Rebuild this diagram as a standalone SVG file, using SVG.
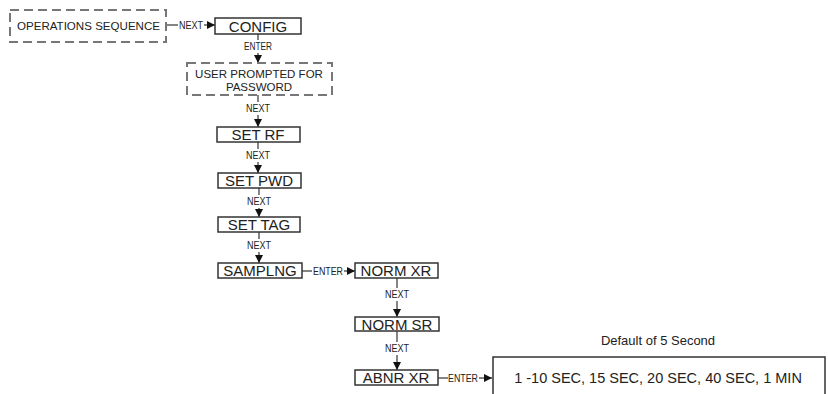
<svg xmlns="http://www.w3.org/2000/svg" width="828" height="394" viewBox="0 0 828 394">
<style>
.box{fill:#fff;stroke:#333;stroke-width:1.5}
.dbox{fill:#fff;stroke:#777;stroke-width:2;stroke-dasharray:9 5}
.lbl{font-family:"Liberation Sans",Arial,sans-serif;font-size:15px;fill:#222;text-anchor:middle}
.sm{font-family:"Liberation Sans",Arial,sans-serif;font-size:11.5px;fill:#222}
.cl{font-family:"Liberation Sans",Arial,sans-serif;font-size:10.5px;fill:#222;text-anchor:middle}
.ln{stroke:#333;stroke-width:1.2;fill:none}
</style>
<defs>
<marker id="ah" markerUnits="userSpaceOnUse" markerWidth="9" markerHeight="9" refX="8" refY="4" orient="auto">
<path d="M0,0 L8,4 L0,8 z" fill="#111"/>
</marker>
</defs>
<rect width="828" height="394" fill="#fff"/>
<g id="connectors">
<line class="ln" x1="166" y1="25" x2="178" y2="25"/>
<text class="cl" x="191" y="29" textLength="24" lengthAdjust="spacingAndGlyphs">NEXT</text>
<line class="ln" x1="204" y1="25" x2="215" y2="25" marker-end="url(#ah)"/>
<line class="ln" x1="258" y1="34" x2="258" y2="40"/>
<text class="cl" x="258" y="50" textLength="28" lengthAdjust="spacingAndGlyphs">ENTER</text>
<line class="ln" x1="258" y1="53" x2="258" y2="63" marker-end="url(#ah)"/>
<line class="ln" x1="258" y1="95" x2="258" y2="102"/>
<text class="cl" x="258" y="112" textLength="24" lengthAdjust="spacingAndGlyphs">NEXT</text>
<line class="ln" x1="258" y1="115" x2="258" y2="127" marker-end="url(#ah)"/>
<line class="ln" x1="258" y1="142" x2="258" y2="149"/>
<text class="cl" x="258" y="159" textLength="24" lengthAdjust="spacingAndGlyphs">NEXT</text>
<line class="ln" x1="258" y1="162" x2="258" y2="173" marker-end="url(#ah)"/>
<line class="ln" x1="259" y1="188" x2="259" y2="195"/>
<text class="cl" x="259" y="205" textLength="24" lengthAdjust="spacingAndGlyphs">NEXT</text>
<line class="ln" x1="259" y1="208" x2="259" y2="217" marker-end="url(#ah)"/>
<line class="ln" x1="259" y1="232" x2="259" y2="239"/>
<text class="cl" x="259" y="249" textLength="24" lengthAdjust="spacingAndGlyphs">NEXT</text>
<line class="ln" x1="259" y1="252" x2="259" y2="263" marker-end="url(#ah)"/>
<line class="ln" x1="302" y1="271" x2="312" y2="271"/>
<text class="cl" x="328" y="274.5" textLength="30" lengthAdjust="spacingAndGlyphs">ENTER</text>
<line class="ln" x1="344" y1="271" x2="355" y2="271" marker-end="url(#ah)"/>
<line class="ln" x1="397" y1="278" x2="397" y2="288"/>
<text class="cl" x="397" y="298" textLength="24" lengthAdjust="spacingAndGlyphs">NEXT</text>
<line class="ln" x1="397" y1="301" x2="397" y2="317" marker-end="url(#ah)"/>
<line class="ln" x1="397" y1="331" x2="397" y2="342"/>
<text class="cl" x="397" y="352" textLength="24" lengthAdjust="spacingAndGlyphs">NEXT</text>
<line class="ln" x1="397" y1="355" x2="397" y2="370" marker-end="url(#ah)"/>
<line class="ln" x1="438" y1="378" x2="448" y2="378"/>
<text class="cl" x="463" y="381.5" textLength="30" lengthAdjust="spacingAndGlyphs">ENTER</text>
<line class="ln" x1="479" y1="378" x2="492" y2="378" marker-end="url(#ah)"/>
</g>
<g id="ops">
<rect class="dbox" x="10" y="10" width="156" height="32"/>
<text class="sm" x="17" y="30" textLength="143" lengthAdjust="spacingAndGlyphs">OPERATIONS SEQUENCE</text>
</g>
<g id="config">
<rect class="box" x="215" y="18" width="86" height="16"/>
<text class="lbl" x="258" y="31.5">CONFIG</text>
</g>
<g id="password">
<rect class="dbox" x="187" y="63" width="145" height="32"/>
<text class="sm" x="259" y="77.5" text-anchor="middle">USER PROMPTED FOR</text>
<text class="sm" x="259" y="90.5" text-anchor="middle">PASSWORD</text>
</g>
<g id="setrf">
<rect class="box" x="217" y="127" width="83" height="15"/>
<text class="lbl" x="258" y="140">SET RF</text>
</g>
<g id="setpwd">
<rect class="box" x="218" y="173" width="83" height="15"/>
<text class="lbl" x="259" y="186">SET PWD</text>
</g>
<g id="settag">
<rect class="box" x="218" y="217" width="82" height="15"/>
<text class="lbl" x="259" y="230">SET TAG</text>
</g>
<g id="samplng">
<rect class="box" x="218" y="263" width="84" height="15"/>
<text class="lbl" x="260" y="276">SAMPLNG</text>
</g>
<g id="normxr">
<rect class="box" x="355" y="263" width="83" height="15"/>
<text class="lbl" x="396" y="276">NORM XR</text>
</g>
<g id="normsr">
<rect class="box" x="355" y="317" width="84" height="14"/>
<text class="lbl" x="397" y="329.5">NORM SR</text>
</g>
<g id="abnrxr">
<rect class="box" x="355" y="370" width="83" height="15"/>
<text class="lbl" x="396" y="383">ABNR XR</text>
</g>
<g id="options">
<text class="sm" x="658" y="345" text-anchor="middle" style="font-size:13px">Default of 5 Second</text>
<rect class="box" x="493" y="357" width="332" height="50"/>
<text class="lbl" x="658" y="383" style="font-size:14.5px">1 -10 SEC, 15 SEC, 20 SEC, 40 SEC, 1 MIN</text>
</g>
</svg>
